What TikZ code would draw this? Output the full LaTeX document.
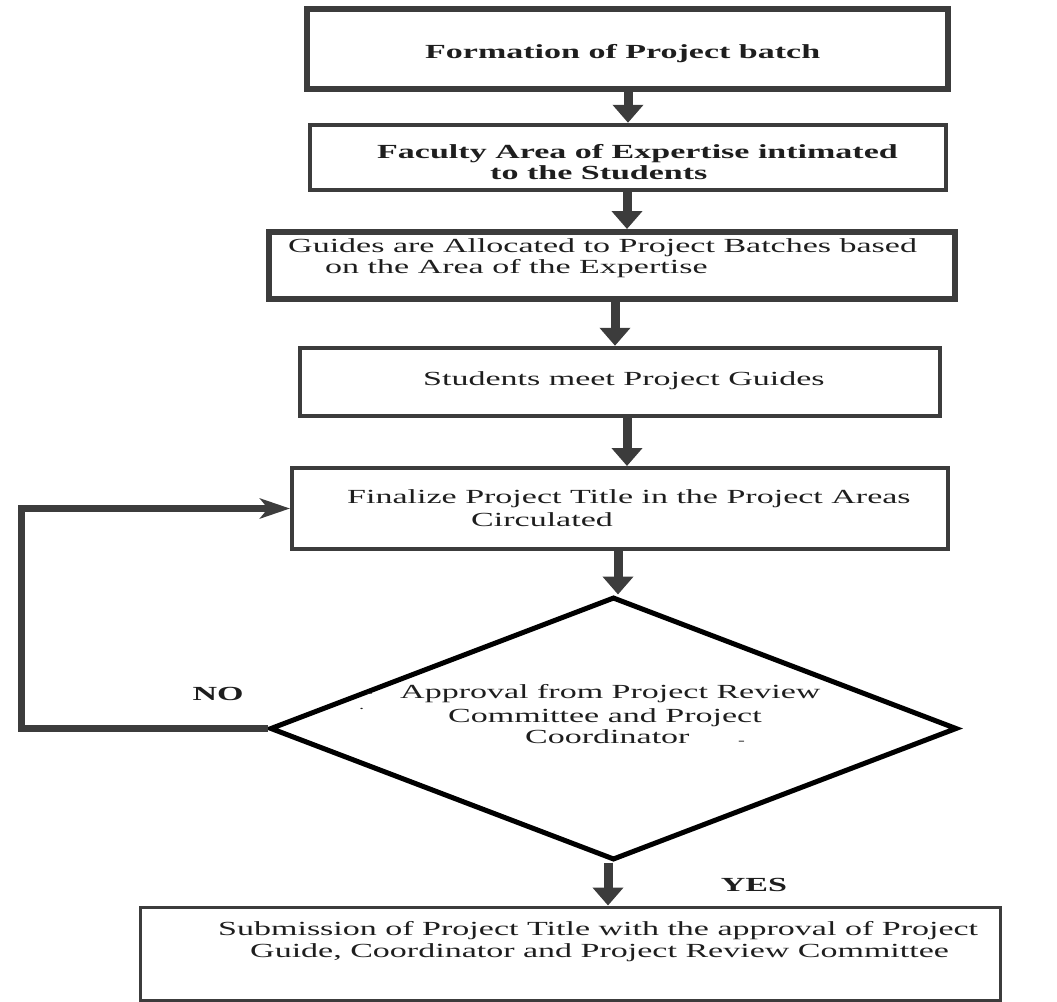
\documentclass[tikz,border=0pt]{standalone}
\usepackage{fontspec}
\setmainfont{Liberation Serif}[FakeStretch=1.7]
\usetikzlibrary{arrows.meta,shapes.geometric}
\definecolor{edge}{HTML}{3C3C3C}
\definecolor{ink}{HTML}{1E1E1E}
\begin{document}
\begin{tikzpicture}[x=1pt,y=-1pt,
  stepbox/.style={draw=edge, line width=4.5pt, rectangle, inner sep=0pt},
  txt/.style={inner sep=0pt, anchor=base west, text=ink, font=\fontsize{20}{24}\selectfont},
  btxt/.style={txt, font=\fontsize{20}{24}\selectfont\bfseries},
  flow/.style={draw=edge, line width=9pt, -{Triangle[length=18pt,width=30pt]}},
  loopline/.style={draw=edge, line width=7pt, line join=miter, -{Stealth[length=30pt,width=20pt,inset=8pt]}}]
\useasboundingbox (0,0) rectangle (1057,1001);

% process boxes
\node[stepbox, line width=6pt, minimum width=641pt, minimum height=80pt] (b1) at (627.5,49) {};
\node[stepbox, minimum width=636pt, minimum height=65pt] (b2) at (628,157.5) {};
\node[stepbox, line width=6pt, minimum width=686pt, minimum height=67pt] (b3) at (612,265.5) {};
\node[stepbox, minimum width=640pt, minimum height=68pt] (b4) at (620,382) {};
\node[stepbox, line width=4pt, minimum width=656pt, minimum height=81pt] (b5) at (620,508.5) {};
\node[stepbox, line width=3pt, minimum width=860pt, minimum height=93pt] (b6) at (570,953.5) {};

% decision
\node[draw=black, line width=5pt, diamond, minimum width=687pt, minimum height=263pt, inner sep=0pt] (dec) at (613.5,728.5) {};

% texts
\node[btxt] (t1) at (425,58) {Formation of Project batch};
\node[btxt] (t2a) at (377,158) {Faculty Area of Expertise intimated};
\node[btxt] (t2b) at (490,179) {to the Students};
\node[txt] (t3a) at (288,252) {Guides are Allocated to Project Batches based};
\node[txt] (t3b) at (325,273) {on the Area of the Expertise};
\node[txt] (t4) at (423,385) {Students meet Project Guides};
\node[txt] (t5a) at (347,503) {Finalize Project Title in the Project Areas};
\node[txt] (t5b) at (471,526) {Circulated};
\node[txt] (tda) at (400,698) {Approval from Project Review};
\node[txt] (tdb) at (448,722) {Committee and Project};
\node[txt] (tdc) at (525,743) {Coordinator};
\node[txt, font=\fontsize{12}{14}\selectfont] (m1) at (366,696) {-};
\node[txt, font=\fontsize{12}{14}\selectfont] (m2) at (359,709) {.};
\node[txt, font=\fontsize{12}{14}\selectfont] (m3) at (738,744) {-};
\node[txt] (t6a) at (218,935) {Submission of Project Title with the approval of Project};
\node[txt] (t6b) at (250,957) {Guide, Coordinator and Project Review Committee};
\node[btxt, anchor=base] (no) at (218,700) {NO};
\node[btxt, anchor=base] (yes) at (754,891) {YES};

% flow arrows
\draw[flow] ([xshift=0.5pt]b1.south) -- (b2.north);
\draw[flow] ([xshift=-1pt]b2.south) -- ([xshift=15pt]b3.north);
\draw[flow] ([xshift=3pt]b3.south) -- ([xshift=-5pt]b4.north);
\draw[flow] ([xshift=7pt]b4.south) -- ([xshift=7pt]b5.north);
\draw[flow] ([xshift=-2pt]b5.south) -- ([xshift=4.5pt]dec.north);
\draw[flow] ([xshift=-5.5pt]dec.south) -- ([xshift=38pt]b6.north);

% rejection loop back to the title step
\coordinate (lp) at (21,0);
\draw[loopline] (dec.west) -- (dec.west -| lp) |- (b5.west);
\end{tikzpicture}
\end{document}
